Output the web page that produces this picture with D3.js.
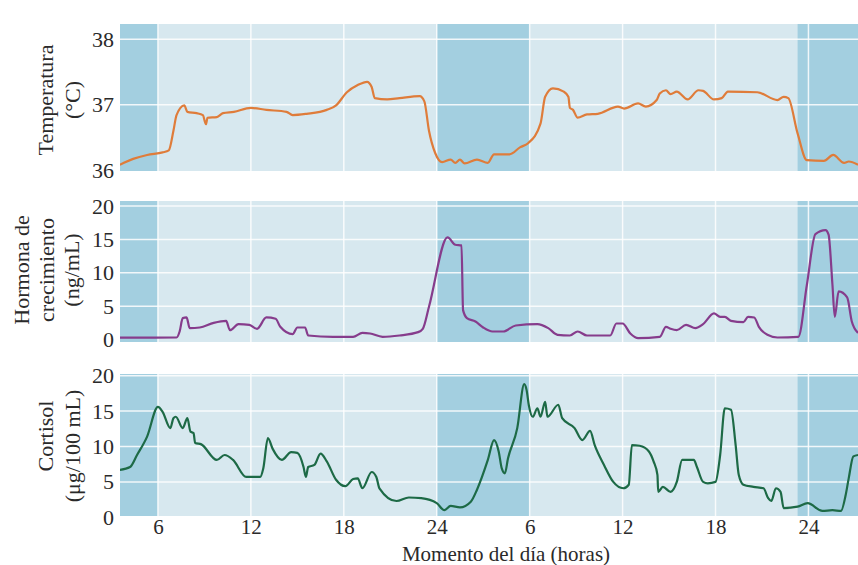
<!DOCTYPE html>
<html><head><meta charset="utf-8">
<script src="https://cdn.jsdelivr.net/npm/d3@7"></script>
<style>body{margin:0;background:#fff}svg{display:block}</style>
</head><body><svg id="c" width="858" height="565"></svg>
<script>
const xTickValues = [6,12,18,24,30,36,42,48];
const xTickLabels = ["6","12","18","24","6","12","18","24"];
const sleepStart = [3.55, 24, 47.3];
const sleepEnd = [6, 30, 51.2];

const tempHours = [3.54,4.4,5.3,6.3,6.7,7.0,7.2,7.7,7.9,8.5,8.9,9.1,9.2,9.8,10.2,10.9,12.0,13.0,14.3,14.7,15.6,16.9,17.5,18.2,18.9,19.5,19.8,20.0,20.8,21.6,22.9,23.2,23.5,23.9,24.35,24.9,25.2,25.5,25.8,26.6,27.3,27.7,28.7,29.4,29.9,30.7,31.0,31.5,32.2,32.5,32.6,32.8,33.1,33.7,34.4,35.7,36.1,37.0,37.5,38.2,38.4,38.8,39.1,39.5,40.2,40.9,41.2,41.9,42.4,42.8,44.7,46.0,46.4,46.7,47.3,47.9,49.0,49.6,50.3,50.6,51.2];
const tempValues = [36.08,36.17,36.23,36.27,36.3,36.6,36.84,36.99,36.89,36.87,36.84,36.70,36.8,36.81,36.87,36.89,36.95,36.92,36.89,36.84,36.86,36.92,36.99,37.19,37.3,37.35,37.27,37.1,37.08,37.1,37.13,37.05,36.6,36.26,36.12,36.16,36.11,36.16,36.1,36.16,36.11,36.24,36.24,36.35,36.41,36.71,37.12,37.25,37.2,37.12,36.95,36.92,36.8,36.85,36.86,36.97,36.94,37.02,36.97,37.07,37.17,37.22,37.16,37.2,37.08,37.22,37.21,37.08,37.1,37.2,37.19,37.07,37.12,37.1,36.56,36.15,36.14,36.23,36.11,36.13,36.08];

const ghHours = [3.54,7.2,7.4,7.6,7.85,8.05,8.7,9.6,10.4,10.65,11.2,11.9,12.4,13.0,13.6,13.9,14.7,15.0,15.5,15.7,17.3,18.6,19.2,19.7,20.5,21.6,22.8,23.1,23.5,24.7,25.2,25.6,25.7,25.95,26.5,27.0,27.6,28.3,29.1,30.5,31.2,31.8,32.6,33.1,33.7,35.2,35.6,36.0,36.5,37.0,38.4,38.8,39.1,39.5,40.1,40.7,41.2,41.9,42.3,42.6,43.0,43.8,44.1,44.5,44.8,45.35,46.0,47.35,47.9,48.45,49.1,49.3,49.55,49.7,49.95,50.5,50.8,51.2];
const ghValues = [0.27,0.3,1.2,3.2,3.3,1.7,1.8,2.5,2.8,1.4,2.3,2.2,1.6,3.3,3.1,1.9,0.8,1.8,1.8,0.6,0.4,0.4,1.0,0.9,0.4,0.6,1.1,1.6,4.9,15.3,14.2,14.1,4.4,3.2,2.7,1.8,1.2,1.2,2.1,2.3,1.7,0.7,0.6,1.2,0.6,0.6,2.4,2.4,0.9,0.2,0.4,1.9,1.6,1.4,2.2,1.7,2.3,3.9,3.4,3.4,2.8,2.6,3.4,3.3,1.9,0.7,0.3,0.4,8.2,15.8,16.4,15.7,8.2,3.4,7.2,6.3,2.7,1.0];

const cortHours = [3.54,4.2,4.65,5.3,6.0,6.3,6.8,7.0,7.15,7.6,7.9,8.1,8.3,8.4,8.8,9.8,10.3,10.85,11.7,12.6,12.8,13.1,13.4,14.0,14.6,15.0,15.4,15.55,15.7,16.1,16.5,16.9,17.5,18.1,18.6,18.9,19.2,19.8,20.1,20.3,21.4,22.2,23.0,24.0,24.5,24.9,25.5,26.2,26.6,27.3,27.7,28.0,28.2,28.4,28.6,29.2,29.65,29.8,29.95,30.2,30.5,30.7,31.0,31.15,31.85,32.1,32.9,33.4,33.9,34.2,34.8,35.4,36.05,36.4,36.6,37.1,37.7,38.0,38.25,38.3,38.6,39.1,39.5,39.85,40.6,40.8,41.2,41.5,42.0,42.3,42.6,43.0,43.3,43.5,43.8,44.45,45.1,45.4,45.6,45.9,46.2,46.4,47.3,47.95,48.9,49.55,50.1,50.4,50.6,50.9,51.2];
const cortValues = [6.7,7.1,8.8,11.4,15.6,14.9,12.6,14.0,14.2,12.6,14.0,12.1,11.9,10.5,10.3,8.1,8.8,8.1,5.7,5.7,6.9,11.2,9.7,8.1,9.2,9.1,7.1,5.7,7.1,7.4,9.0,7.9,5.3,4.4,5.4,5.5,4.1,6.4,5.7,4.1,2.3,2.8,2.7,2.0,1.0,1.6,1.4,2.2,3.9,8.1,10.9,9.3,6.9,6.2,8.3,12.6,18.8,18.0,15.8,14.2,15.4,14.2,16.3,14.2,15.9,14.0,12.6,10.9,12.2,10.2,7.4,5.0,4.1,4.6,10.2,10.1,9.3,7.9,6.0,3.6,4.3,3.6,5.0,8.1,8.1,7.1,5.0,4.8,5.0,8.8,15.4,15.2,10.2,6.0,4.6,4.3,4.1,2.7,2.3,4.1,3.6,1.3,1.5,2.0,0.9,1.0,0.9,3.1,5.5,8.6,8.8];

const tempTicks = [36,37,38];
const hormTicks = [0,5,10,15,20];

const svg = d3.select("#c");
const FONT = "'Liberation Serif','DejaVu Serif',serif";
const x = d3.scaleLinear().domain([3.55, 51.2]).range([120, 858]);

const panels = [
  {top:24, bottom:171, domain:[36,38], range:[170,39.3], ticks:tempTicks, hours:tempHours, vals:tempValues, color:"#df7c3a",
   labels:[{t:"Temperatura", cx:45, cy:100},{t:"(°C)", cx:72, cy:100}]},
  {top:201, bottom:342, domain:[0,20], range:[339.5,206], ticks:hormTicks, hours:ghHours, vals:ghValues, color:"#863c8c",
   labels:[{t:"Hormona de", cx:21, cy:270},{t:"crecimiento", cx:46, cy:270},{t:"(ng/mL)", cx:71, cy:270}]},
  {top:374, bottom:516, domain:[0,20], range:[517.3,375.7], ticks:hormTicks, hours:cortHours, vals:cortValues, color:"#1d6a46",
   labels:[{t:"Cortisol", cx:45, cy:436},{t:"(μg/100 mL)", cx:72, cy:446}]}
];

panels.forEach((p,i) => {
  const y = d3.scaleLinear().domain(p.domain).range(p.range);
  const g = svg.append("g");
  const cid = "clip"+i;
  svg.append("clipPath").attr("id",cid).append("rect")
    .attr("x",120).attr("y",p.top).attr("width",738).attr("height",p.bottom-p.top);
  g.append("rect").attr("x",120).attr("y",p.top).attr("width",738).attr("height",p.bottom-p.top).attr("fill","#d7e8ef");
  g.selectAll("rect.band").data(sleepStart).enter().append("rect").attr("class","band")
    .attr("x",d=>x(d)).attr("width",(d,j)=>x(sleepEnd[j])-x(d))
    .attr("y",p.top).attr("height",p.bottom-p.top).attr("fill","#a3cfe0");
  g.selectAll("line.h").data(p.ticks.filter(t=>t!==p.domain[0])).enter().append("line")
    .attr("x1",120).attr("x2",858).attr("y1",d=>y(d)).attr("y2",d=>y(d))
    .attr("stroke","#fff").attr("stroke-width",1.5).attr("opacity",0.85);
  g.selectAll("line.v").data(xTickValues).enter().append("line")
    .attr("x1",d=>x(d)).attr("x2",d=>x(d)).attr("y1",p.top).attr("y2",p.bottom)
    .attr("stroke","#fff").attr("stroke-width",1.5).attr("opacity",0.85);
  const ax = svg.append("g").attr("transform","translate(118,0)")
    .call(d3.axisLeft(y).tickValues(p.ticks).tickSize(0).tickPadding(4).tickFormat(d3.format("d")));
  ax.select(".domain").remove();
  ax.selectAll("text").attr("font-family",FONT).attr("font-size",22).attr("fill","#2a2a2a");
  const pts = p.hours.map((h,k)=>[h,p.vals[k]]);
  g.append("path").datum(pts).attr("clip-path","url(#"+cid+")")
    .attr("fill","none").attr("stroke",p.color).attr("stroke-width",2.2)
    .attr("stroke-linejoin","round")
    .attr("d", d3.line().x(d=>x(d[0])).y(d=>y(d[1])).curve(d3.curveMonotoneX));
  p.labels.forEach(l=>{
    svg.append("text").attr("transform",`translate(${l.cx},${l.cy}) rotate(-90)`)
      .attr("text-anchor","middle").attr("dy","0.35em")
      .attr("font-family",FONT).attr("font-size",22).attr("fill","#2a2a2a").text(l.t);
  });
});

const xa = svg.append("g").attr("transform","translate(0,517)")
  .call(d3.axisBottom(x).tickValues(xTickValues).tickSize(0).tickPadding(2).tickFormat((d,i)=>xTickLabels[i]));
xa.select(".domain").remove();
xa.selectAll("text").attr("font-family",FONT).attr("font-size",21).attr("fill","#2a2a2a");

svg.append("text").attr("x",506).attr("y",561).attr("text-anchor","middle")
  .attr("font-family",FONT).attr("font-size",21).attr("fill","#2a2a2a").text("Momento del día (horas)");
</script></body></html>
